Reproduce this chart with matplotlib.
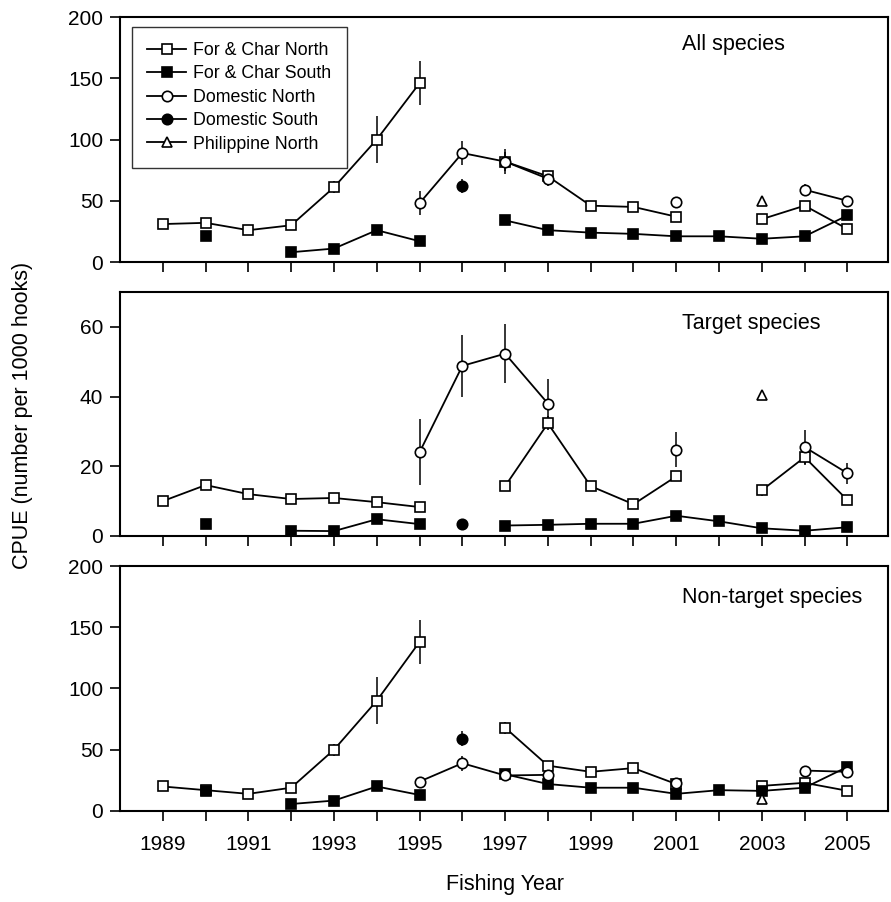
import matplotlib
matplotlib.use("Agg")
import matplotlib.pyplot as plt
import numpy as np

plt.rcParams['font.family'] = ['Liberation Sans', 'DejaVu Sans']

nan = np.nan
years = np.arange(1989, 2006)

series_names = ['For & Char North', 'For & Char South', 'Domestic North',
                'Domestic South', 'Philippine North']
panel_titles = ['All species', 'Target species', 'Non-target species']

# ---- All species ----
all_fcn = [31, 32, 26, 30, 61, 100, 146, nan, 82, 70, 46, 45, 37, nan, 35, 46, 27]
all_fcn_err = [0, 0, 0, 0, 5, 19, 18, nan, 8, 4, 0, 0, 0, nan, 0, 0, 0]
all_fcs = [nan, 21, nan, 8, 11, 26, 17, nan, 34, 26, 24, 23, 21, 21, 19, 21, 38]
all_dn = [nan, nan, nan, nan, nan, nan, 48, 89, 82, 68, nan, nan, 49, nan, nan, 59, 50]
all_dn_err = [nan, nan, nan, nan, nan, nan, 10, 10, 10, 6, nan, nan, 4, nan, nan, 5, 0]
all_ds = [nan] * 7 + [62] + [nan] * 9
all_ds_err = [nan] * 7 + [6] + [nan] * 9
all_pn = [nan] * 14 + [50] + [nan] * 2

# ---- Target species ----
tgt_fcn = [10, 14.6, 12, 10.6, 10.9, 9.7, 8.3, nan, 14.3, 32.3, 14.3, 9.1, 17.1, nan, 13.1, 22.6, 10.3]
tgt_fcn_err = [0, 0, 0, 0, 0, 0, 1.5, nan, 0, 2, 1.5, 1, 0, nan, 1.5, 2, 0]
tgt_fcs = [nan, 3.4, nan, 1.5, 1.4, 4.8, 3.4, nan, 3.0, 3.2, 3.5, 3.5, 5.8, 4.2, 2.2, 1.5, 2.5]
tgt_dn = [nan, nan, nan, nan, nan, nan, 24, 48.8, 52.3, 38, nan, nan, 24.8, nan, nan, 25.5, 18]
tgt_dn_err = [nan, nan, nan, nan, nan, nan, 9.5, 9, 8.5, 7, nan, nan, 5, nan, nan, 5, 3]
tgt_ds = [nan] * 7 + [3.4] + [nan] * 9
tgt_ds_err = [nan] * 7 + [0] + [nan] * 9
tgt_pn = [nan] * 14 + [40.5] + [nan] * 2

# ---- Non-target species ----
non_fcn = [20, 17, 14, 19, 50, 90, 138, nan, 68, 37, 32, 35, 22, nan, 20.5, 23, 16.5]
non_fcn_err = [0, 0, 0, 0, 5, 19, 18, nan, 5, 0, 0, 4, 0, nan, 0, 0, 0]
non_fcs = [nan, 16.5, nan, 5.7, 8.5, 20, 13.1, nan, 30, 22, 19, 19, 14, 17, 16.4, 19, 36]
non_dn = [nan, nan, nan, nan, nan, nan, 24, 39, 29, 29.5, nan, nan, 23, nan, nan, 33, 32]
non_dn_err = [nan, nan, nan, nan, nan, nan, 0, 6, 0, 0, nan, nan, 3, nan, nan, 0, 5]
non_ds = [nan] * 7 + [59] + [nan] * 9
non_ds_err = [nan] * 7 + [6] + [nan] * 9
non_pn = [nan] * 14 + [10] + [nan] * 2

panels = [
    (all_fcn, all_fcn_err, all_fcs, all_dn, all_dn_err, all_ds, all_ds_err, all_pn),
    (tgt_fcn, tgt_fcn_err, tgt_fcs, tgt_dn, tgt_dn_err, tgt_ds, tgt_ds_err, tgt_pn),
    (non_fcn, non_fcn_err, non_fcs, non_dn, non_dn_err, non_ds, non_ds_err, non_pn),
]
ylims = [(0, 200), (0, 70), (0, 200)]
yticks = [[0, 50, 100, 150, 200], [0, 20, 40, 60], [0, 50, 100, 150, 200]]
title_y = [0.886, 0.869, 0.87]

styles = [
    dict(marker='s', mfc='white'),
    dict(marker='s', mfc='black'),
    dict(marker='o', mfc='white'),
    dict(marker='o', mfc='black'),
    dict(marker='^', mfc='white'),
]

fig = plt.figure(figsize=(8.91, 9.02), dpi=100)
left, width = 0.1347, 0.862
bottoms = [0.7095, 0.4058, 0.1009]
heights = [0.2716, 0.2705, 0.2716]

for i, (fcn, fcn_e, fcs, dn, dn_e, ds, ds_e, pn) in enumerate(panels):
    ax = fig.add_axes([left, bottoms[i], width, heights[i]])
    vals = [fcn, fcs, dn, ds, pn]
    errs = [fcn_e, None, dn_e, ds_e, None]
    for v, e, st, name in zip(vals, errs, styles, series_names):
        v = np.array(v, dtype=float)
        if e is not None:
            e = np.nan_to_num(np.array(e, dtype=float))
            ok = ~np.isnan(v) & (e > 0)
            ax.vlines(years[ok], v[ok] - e[ok], v[ok] + e[ok], color='black',
                      lw=1.1, zorder=2)
        ax.plot(years, v, color='black', lw=1.3, marker=st['marker'],
                mfc=st['mfc'], mec='black', mew=1.2, ms=7.5, label=name, zorder=3)
    ax.set_xlim(1988, 2005.95)
    ax.set_ylim(*ylims[i])
    ax.set_yticks(yticks[i])
    ax.set_xticks(years)
    if i == 2:
        ax.set_xticklabels([str(y) if y % 2 == 1 else '' for y in years])
    else:
        ax.set_xticklabels([])
    ax.tick_params(direction='out', length=7, width=1.2, labelsize=15)
    ax.tick_params(axis='x', pad=10)
    ax.tick_params(axis='y', pad=5)
    for sp in ax.spines.values():
        sp.set_linewidth(1.5)
    ax.text(0.732, title_y[i], panel_titles[i], transform=ax.transAxes,
            fontsize=15.5, ha='left', va='center')
    if i == 0:
        leg = ax.legend(loc='upper left', bbox_to_anchor=(0.0156, 0.96),
                        borderaxespad=0, fontsize=12.8, frameon=True,
                        fancybox=False, edgecolor='black', handlelength=2.2,
                        handletextpad=0.4, labelspacing=0.36, borderpad=0.85)
        leg.get_frame().set_linewidth(1.0)

fig.text(0.025, 0.539, 'CPUE (number per 1000 hooks)', rotation=90,
         fontsize=15.5, ha='center', va='center')
fig.text(0.567, 0.019, 'Fishing Year', fontsize=15.5, ha='center', va='center')

fig.savefig('out.png', dpi=100)
